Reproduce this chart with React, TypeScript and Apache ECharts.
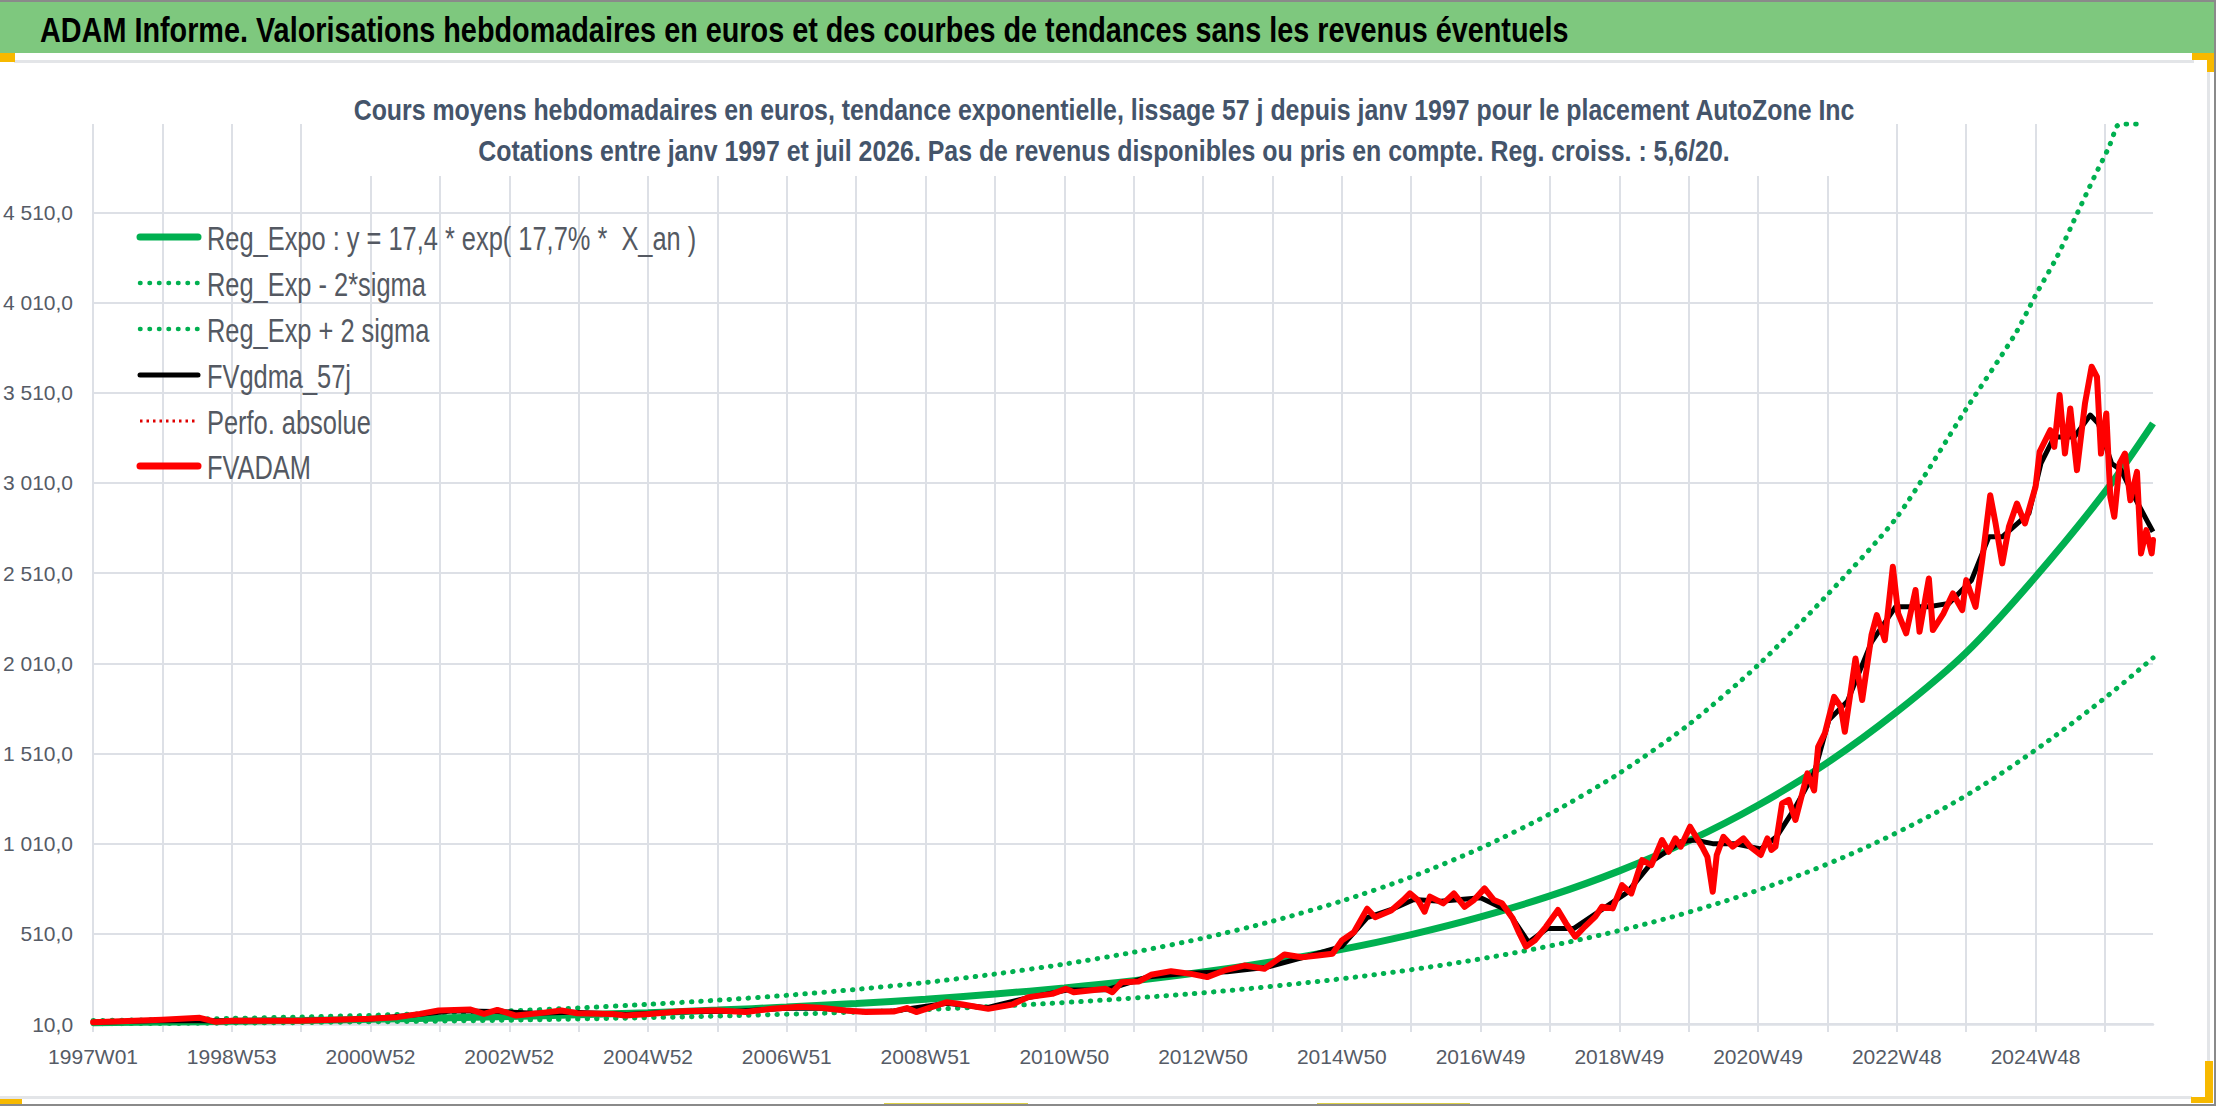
import React, { useEffect, useRef } from "react";
import * as echarts from "echarts";

const FONT = '"Liberation Sans", Arial, sans-serif';

const HEADER = "ADAM Informe. Valorisations hebdomadaires en euros et des courbes de tendances sans les revenus éventuels";
const SUBTITLE_1 = "Cours moyens hebdomadaires en euros, tendance exponentielle, lissage 57 j depuis janv 1997 pour le placement AutoZone Inc";
const SUBTITLE_2 = "Cotations entre janv 1997 et juil 2026. Pas de revenus disponibles ou pris en compte. Reg. croiss. : 5,6/20.";

const LEGEND_NAMES = [
  "Reg_Expo : y = 17,4 * exp( 17,7% *  X_an )",
  "Reg_Exp - 2*sigma",
  "Reg_Exp + 2 sigma",
  "FVgdma_57j",
  "Perfo. absolue",
  "FVADAM",
];

// weekly categories: Wednesdays from 1 Jan 1997, ISO week labels
const START_UTC = Date.UTC(1997, 0, 1);
const WEEK_COUNT = 1545;
function isoWeekLabel(t: number): string {
  const d = new Date(t);
  const day = (d.getUTCDay() + 6) % 7;
  const thu = t + (3 - day) * 86400000;
  const year = new Date(thu).getUTCFullYear();
  const week = Math.floor((thu - Date.UTC(year, 0, 1)) / 86400000 / 7) + 1;
  return `${year}W${String(week).padStart(2, "0")}`;
}
const weekLabels: string[] = Array.from({ length: WEEK_COUNT }, (_, i) => isoWeekLabel(START_UTC + i * 7 * 86400000));

// Reg_Expo (read every 52 weeks)
const regWeeks = [0, 52, 104, 156, 208, 260, 312, 364, 416, 468, 520, 572, 624, 676, 728, 780, 832, 884, 936, 988, 1040, 1092, 1144, 1196, 1248, 1300, 1352, 1404, 1456, 1508, 1544];
const regValues = [17, 21, 25, 30, 36, 43, 51, 61, 73, 87, 104, 124, 147, 176, 210, 250, 298, 356, 424, 506, 604, 720, 859, 1025, 1223, 1459, 1741, 2070, 2490, 2960, 3340];

// Reg_Exp - 2*sigma
const lowWeeks = [0, 52, 104, 156, 208, 260, 312, 364, 416, 468, 520, 572, 624, 676, 728, 780, 832, 884, 936, 988, 1040, 1092, 1144, 1196, 1248, 1300, 1352, 1404, 1456, 1508, 1544];
const lowValues = [11, 13, 15, 18, 22, 26, 31, 38, 45, 54, 64, 76, 90, 108, 129, 154, 183, 219, 261, 311, 371, 443, 528, 630, 752, 897, 1071, 1277, 1530, 1818, 2040];

// Reg_Exp + 2 sigma
const highWeeks = [0, 52, 104, 156, 208, 260, 312, 364, 416, 468, 520, 572, 624, 676, 728, 780, 832, 884, 936, 988, 1040, 1092, 1144, 1196, 1248, 1300, 1352, 1404, 1441, 1456, 1472, 1486, 1500, 1511, 1517, 1520, 1538];
const highValues = [29, 34, 41, 49, 58, 70, 83, 99, 119, 142, 169, 202, 240, 287, 342, 408, 486, 580, 692, 825, 985, 1175, 1400, 1670, 2000, 2390, 2820, 3420, 3839, 4051, 4263, 4485, 4707, 4873, 4988, 5000, 5000];

// FVgdma_57j
const smaWeeks = [0, 52, 104, 156, 208, 240, 270, 300, 330, 360, 400, 440, 480, 520, 545, 570, 600, 640, 670, 700, 730, 760, 790, 820, 850, 880, 910, 936, 955, 975, 990, 1010, 1040, 1060, 1076, 1090, 1110, 1130, 1150, 1170, 1190, 1200, 1214, 1230, 1250, 1262, 1275, 1290, 1301, 1315, 1333, 1351, 1376, 1391, 1408, 1421, 1431, 1451, 1460, 1470, 1485, 1497, 1503, 1513, 1520, 1530, 1540, 1544];
const smaValues = [20, 30, 27, 29, 38, 60, 84, 80, 70, 75, 62, 78, 80, 97, 98, 80, 82, 125, 100, 155, 198, 200, 270, 292, 300, 325, 385, 440, 600, 650, 700, 690, 710, 640, 463, 540, 540, 640, 740, 920, 1020, 1030, 1010, 1010, 980, 1050, 1200, 1400, 1695, 1800, 2127, 2323, 2323, 2342, 2471, 2711, 2711, 2841, 3118, 3265, 3265, 3386, 3340, 3118, 3081, 2933, 2794, 2739];

// FVADAM
const priceWeeks = [0, 52, 80, 92, 104, 155, 180, 207, 228, 245, 259, 283, 293, 303, 317, 338, 351, 363, 389, 399, 417, 441, 468, 489, 509, 530,
  545, 564, 579, 600, 610, 617, 640, 652, 671, 689, 701, 719, 729, 735, 759, 764, 771, 784, 793, 808, 823, 835, 848, 863, 878, 893, 906, 918, 929, 936, 945, 955, 961, 973,
  982, 987, 993, 998, 1002, 1012, 1020, 1028, 1035, 1043, 1050, 1056, 1064, 1069, 1074, 1081, 1089, 1098, 1104, 1111, 1118, 1126, 1131, 1139, 1146, 1153, 1161, 1168, 1176, 1181, 1186, 1190, 1197, 1206, 1210, 1214, 1217, 1222, 1229, 1237, 1242, 1250, 1255, 1258, 1261, 1266, 1271, 1276, 1285, 1290, 1293,
  1298, 1305, 1310, 1313, 1321, 1326, 1333, 1337, 1343, 1349, 1353, 1359, 1366, 1369, 1376, 1379, 1387, 1394, 1401, 1404, 1411, 1416, 1422, 1426, 1431, 1436, 1442, 1448, 1456, 1459, 1467, 1470, 1474, 1478, 1482, 1487, 1493, 1498, 1502, 1505, 1509, 1512, 1515, 1519, 1523, 1527, 1532, 1535, 1539, 1543, 1544];
const priceValues = [20, 33, 44, 22, 28, 28, 33, 39, 48, 66, 85, 90, 66, 88, 57, 73, 85, 70, 66, 57, 66, 81, 85, 76, 94, 105,
  100, 85, 76, 79, 98, 76, 131, 118, 94, 118, 159, 177, 205, 186, 205, 186, 242, 246, 283, 303, 288, 270, 307, 334, 316, 395, 380, 390, 399, 473, 519, 649, 602, 639,
  697, 734, 697, 633, 716, 679, 734, 660, 697, 762, 697, 679, 596, 513, 439, 476, 549, 642, 568, 494, 549, 605, 660, 651, 780, 734, 919, 891, 1030, 965, 1039, 993, 1104, 993, 937, 743, 947, 1048, 993, 1039, 993, 947, 1039, 975, 993, 1233, 1252, 1141, 1400, 1305, 1547,
  1621, 1824, 1769, 1630, 2037, 1806, 2166, 2277, 2138, 2545, 2287, 2176, 2416, 2185, 2480, 2194, 2287, 2397, 2305, 2471, 2323, 2582, 2942, 2785, 2564, 2767, 2896, 2785, 2989, 3182, 3302, 3210, 3497, 3173, 3423, 3081, 3450, 3654, 3598, 3173, 3395, 2933, 2822, 3118, 3173, 2914, 3071, 2619, 2748, 2619, 2693];

const pairs = (w: number[], v: number[]) => w.map((x, i) => [x, v[i]]);

const GREEN = "#00B050";
const RED = "#FF0000";
const GRID = "#DDE0E6";
const AXIS_TXT = "#555B66";
const LEGEND_TXT = "#545962";
const YELLOW = "#F7B900";
const BORDER = "#E3E5E8";

function frFormat(v: number): string {
  const [i, d] = v.toFixed(1).split(".");
  return i.replace(/\B(?=(\d{3})+(?!\d))/g, " ") + "," + d;
}

export default function App() {
  const ref = useRef<HTMLDivElement>(null);
  useEffect(() => {
    document.body.style.margin = "0";
    if (!ref.current) return;
    const chart = echarts.init(ref.current, undefined, { renderer: "svg" });
    const rows = [237, 283, 329, 375, 421, 466];
    const legendIcons: any[] = [
      { stroke: GREEN, lineWidth: 7, lineCap: "round" },
      { stroke: GREEN, lineWidth: 4.5, lineCap: "round", lineDash: [0.5, 9] },
      { stroke: GREEN, lineWidth: 4.5, lineCap: "round", lineDash: [0.5, 9] },
      { stroke: "#000", lineWidth: 5, lineCap: "round" },
      { stroke: "#E00000", lineWidth: 3, lineCap: "butt", lineDash: [2.5, 4] },
      { stroke: RED, lineWidth: 7, lineCap: "round" },
    ];
    const legendGraphics: any[] = [];
    rows.forEach((y, i) => {
      legendGraphics.push({
        type: "line", z: 20,
        shape: { x1: 140, y1: y, x2: 198, y2: y },
        style: legendIcons[i],
      });
      legendGraphics.push({
        type: "text", z: 20, x: 207, y: y + 1, scaleX: 0.77,
        style: { text: LEGEND_NAMES[i], fill: LEGEND_TXT, font: `33px ${FONT}`, verticalAlign: "middle", align: "left" },
      });
    });

    const option: any = {
      animation: false,
      backgroundColor: "#ffffff",
      textStyle: { fontFamily: FONT },
      grid: { left: 88, right: 63, top: 124, bottom: 82, containLabel: false },
      xAxis: {
        type: "category",
        data: weekLabels,
        boundaryGap: false,
        axisLine: { show: true, lineStyle: { color: GRID, width: 2.5 } },
        axisTick: { show: true, interval: 51, length: 8, lineStyle: { color: GRID, width: 2 } },
        axisLabel: { interval: 103, margin: 22, fontSize: 21, color: AXIS_TXT, fontFamily: FONT },
        splitLine: { show: true, interval: 51, lineStyle: { color: GRID, width: 2 } },
      },
      yAxis: {
        type: "value",
        min: 10,
        max: 5000,
        interval: 500,
        axisLine: { show: false },
        axisTick: { show: false },
        axisLabel: { margin: 20, fontSize: 21, color: AXIS_TXT, fontFamily: FONT, formatter: (v: number) => frFormat(v), showMaxLabel: false },
        splitLine: { show: true, showMaxLine: false, lineStyle: { color: GRID, width: 2 } },
      },
      series: [
        { name: LEGEND_NAMES[0], type: "line", data: pairs(regWeeks, regValues), symbol: "none", smooth: 0.35, lineStyle: { color: GREEN, width: 7 }, z: 2 },
        { name: LEGEND_NAMES[1], type: "line", data: pairs(lowWeeks, lowValues), symbol: "none", smooth: 0.35, lineStyle: { color: GREEN, width: 5, type: [0.5, 9], cap: "round" }, z: 2 },
        { name: LEGEND_NAMES[2], type: "line", data: pairs(highWeeks, highValues), symbol: "none", smooth: 0.25, lineStyle: { color: GREEN, width: 5, type: [0.5, 9], cap: "round" }, z: 2 },
        { name: LEGEND_NAMES[3], type: "line", data: pairs(smaWeeks, smaValues), symbol: "none", lineStyle: { color: "#000000", width: 5, join: "round" }, z: 3 },
        { name: LEGEND_NAMES[4], type: "line", data: [], symbol: "none", lineStyle: { color: "#E00000", width: 2, type: "dotted" }, z: 3 },
        { name: LEGEND_NAMES[5], type: "line", data: pairs(priceWeeks, priceValues), symbol: "none", lineStyle: { color: RED, width: 6, join: "round", cap: "round" }, z: 4 },
      ],
      graphic: [
        { type: "rect", z: 10, shape: { x: 0, y: 0, width: 2216, height: 53 }, style: { fill: "#7EC87E" } },
        { type: "rect", z: 11, shape: { x: 0, y: 0, width: 2216, height: 2 }, style: { fill: "#8A8A8A" } },
        { type: "text", z: 12, x: 40, y: 30, scaleX: 0.823, style: { text: HEADER, fill: "#000000", font: `bold 35px ${FONT}`, verticalAlign: "middle", align: "left" } },
        { type: "rect", z: 9, shape: { x: 340, y: 86, width: 1530, height: 90 }, style: { fill: "#ffffff" } },
        { type: "text", z: 12, x: 1104, y: 110, scaleX: 0.83, style: { text: SUBTITLE_1, fill: "#44546A", font: `bold 30px ${FONT}`, verticalAlign: "middle", align: "center" } },
        { type: "text", z: 12, x: 1104, y: 151, scaleX: 0.83, style: { text: SUBTITLE_2, fill: "#44546A", font: `bold 30px ${FONT}`, verticalAlign: "middle", align: "center" } },
        { type: "rect", z: 10, shape: { x: 14, y: 60, width: 2180, height: 3 }, style: { fill: BORDER } },
        { type: "rect", z: 11, shape: { x: 0, y: 53, width: 15, height: 9 }, style: { fill: YELLOW } },
        { type: "rect", z: 11, shape: { x: 2192, y: 53, width: 22, height: 7 }, style: { fill: YELLOW } },
        { type: "rect", z: 11, shape: { x: 2207, y: 53, width: 7, height: 19 }, style: { fill: YELLOW } },
        { type: "rect", z: 10, shape: { x: 2207, y: 72, width: 3, height: 990 }, style: { fill: BORDER } },
        { type: "rect", z: 10, shape: { x: 0, y: 1096, width: 2192, height: 3 }, style: { fill: BORDER } },
        { type: "rect", z: 11, shape: { x: 2205, y: 1061, width: 8, height: 42 }, style: { fill: YELLOW } },
        { type: "rect", z: 11, shape: { x: 2191, y: 1097, width: 22, height: 6 }, style: { fill: YELLOW } },
        { type: "rect", z: 11, shape: { x: 0, y: 1099, width: 22, height: 7 }, style: { fill: YELLOW } },
        { type: "rect", z: 11, shape: { x: 884, y: 1103, width: 144, height: 3 }, style: { fill: "#DCCF45" } },
        { type: "rect", z: 11, shape: { x: 1317, y: 1103, width: 153, height: 3 }, style: { fill: "#DCCF45" } },
        { type: "rect", z: 11, shape: { x: 2214, y: 0, width: 2, height: 1106 }, style: { fill: "#8A8A8A" } },
        { type: "rect", z: 11, shape: { x: 0, y: 1104, width: 2216, height: 2 }, style: { fill: "#8A8A8A" } },
        ...legendGraphics,
      ],
    };
    chart.setOption(option);
    return () => chart.dispose();
  }, []);
  return <div ref={ref} style={{ width: 2216, height: 1106 }} />;
}
